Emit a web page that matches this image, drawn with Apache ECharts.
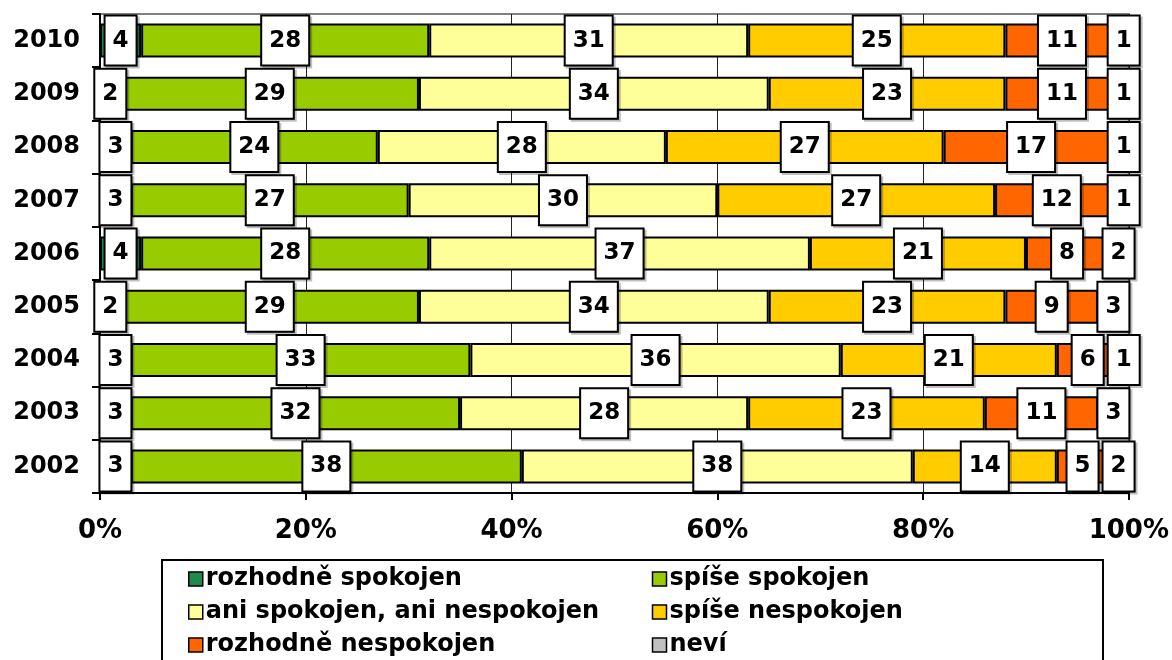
<!DOCTYPE html>
<html>
<head>
<meta charset="utf-8">
<script src="https://cdn.jsdelivr.net/npm/echarts@6/dist/echarts.min.js"></script>
<style>
html,body{margin:0;padding:0;background:#fff;}
#c{width:1172px;height:660px;}
</style>
</head>
<body>
<div id="c"></div>
<script>
const years = ['2010','2009','2008','2007','2006','2005','2004','2003','2002'];
const rozhodneSpokojen   = [4, 2, 3, 3, 4, 2, 3, 3, 3];
const spiseSpokojen      = [28, 29, 24, 27, 28, 29, 33, 32, 38];
const aniAni             = [31, 34, 28, 30, 37, 34, 36, 28, 38];
const spiseNespokojen    = [25, 23, 27, 27, 21, 23, 21, 23, 14];
const rozhodneNespokojen = [11, 11, 17, 12, 8, 9, 6, 11, 5];
const nevi               = [1, 1, 1, 1, 2, 3, 1, 3, 2];
const seriesNames = ['rozhodně spokojen','spíše spokojen','ani spokojen, ani nespokojen','spíše nespokojen','rozhodně nespokojen','neví'];
const xTicks = [0, 20, 40, 60, 80, 100];

const colors = ['#1f8a4c','#99cc00','#ffff99','#ffcc00','#ff6600','#c0c0c0'];
const FONT = 'Verdana, "DejaVu Sans", sans-serif';
const allData = [rozhodneSpokojen, spiseSpokojen, aniAni, spiseNespokojen, rozhodneNespokojen, nevi];

const chart = echarts.init(document.getElementById('c'), null, {renderer:'canvas'});
chart.setOption({
  animation:false,
  backgroundColor:'#fff',
  color: colors,
  grid:{left:100, right:42, top:14, bottom:167, show:true, borderColor:'#808080', borderWidth:2, backgroundColor:'transparent'},
  xAxis:{
    type:'value', min:xTicks[0], max:xTicks[xTicks.length-1], interval:20,
    axisLine:{show:true, lineStyle:{color:'#000', width:2}},
    axisTick:{show:true, length:7, lineStyle:{color:'#000', width:2}},
    splitLine:{show:true, lineStyle:{color:'#222', width:1}},
    axisLabel:{formatter:'{value}%', fontFamily:FONT, fontWeight:'bold', fontSize:26, color:'#000', margin:25}
  },
  yAxis:{
    type:'category', data:years, inverse:true,
    axisLine:{show:true, lineStyle:{color:'#000', width:2}},
    axisTick:{show:true, length:8, lineStyle:{color:'#000', width:2}},
    axisLabel:{fontFamily:FONT, fontWeight:'bold', fontSize:24, color:'#000', margin:20}
  },
  legend:{
    left:183, top:562, width:940,
    orient:'horizontal',
    itemWidth:14, itemHeight:14, itemGap:9,
    icon:'rect',
    itemStyle:{borderColor:'#000', borderWidth:1.5},
    textStyle:{fontFamily:FONT, fontWeight:'bold', fontSize:24, color:'#000', width:437, lineHeight:22, padding:[0,0,0,-2]},
    data: seriesNames
  },
  graphic:[{
    type:'rect', z:-1, silent:true,
    shape:{x:162, y:560, width:941, height:130},
    style:{fill:'#fff', stroke:'#000', lineWidth:2}
  }],
  series: seriesNames.map((n,i)=>({
    name:n, type:'bar', stack:'total', barWidth:34,
    data: allData[i],
    itemStyle:{color:colors[i], borderColor:'#000', borderWidth:2},
    label:{
      show:true, position:'inside', formatter:'{c}',
      fontFamily:FONT, fontWeight:'bold', fontSize:23, color:'#000',
      backgroundColor:'#fff', borderColor:'#000', borderWidth:2,
      padding:[12,7,10,7], lineHeight:26,
      shadowColor:'rgba(0,0,0,0.25)', shadowOffsetX:2, shadowOffsetY:2, shadowBlur:0
    }
  }))
});
</script>
</body>
</html>
